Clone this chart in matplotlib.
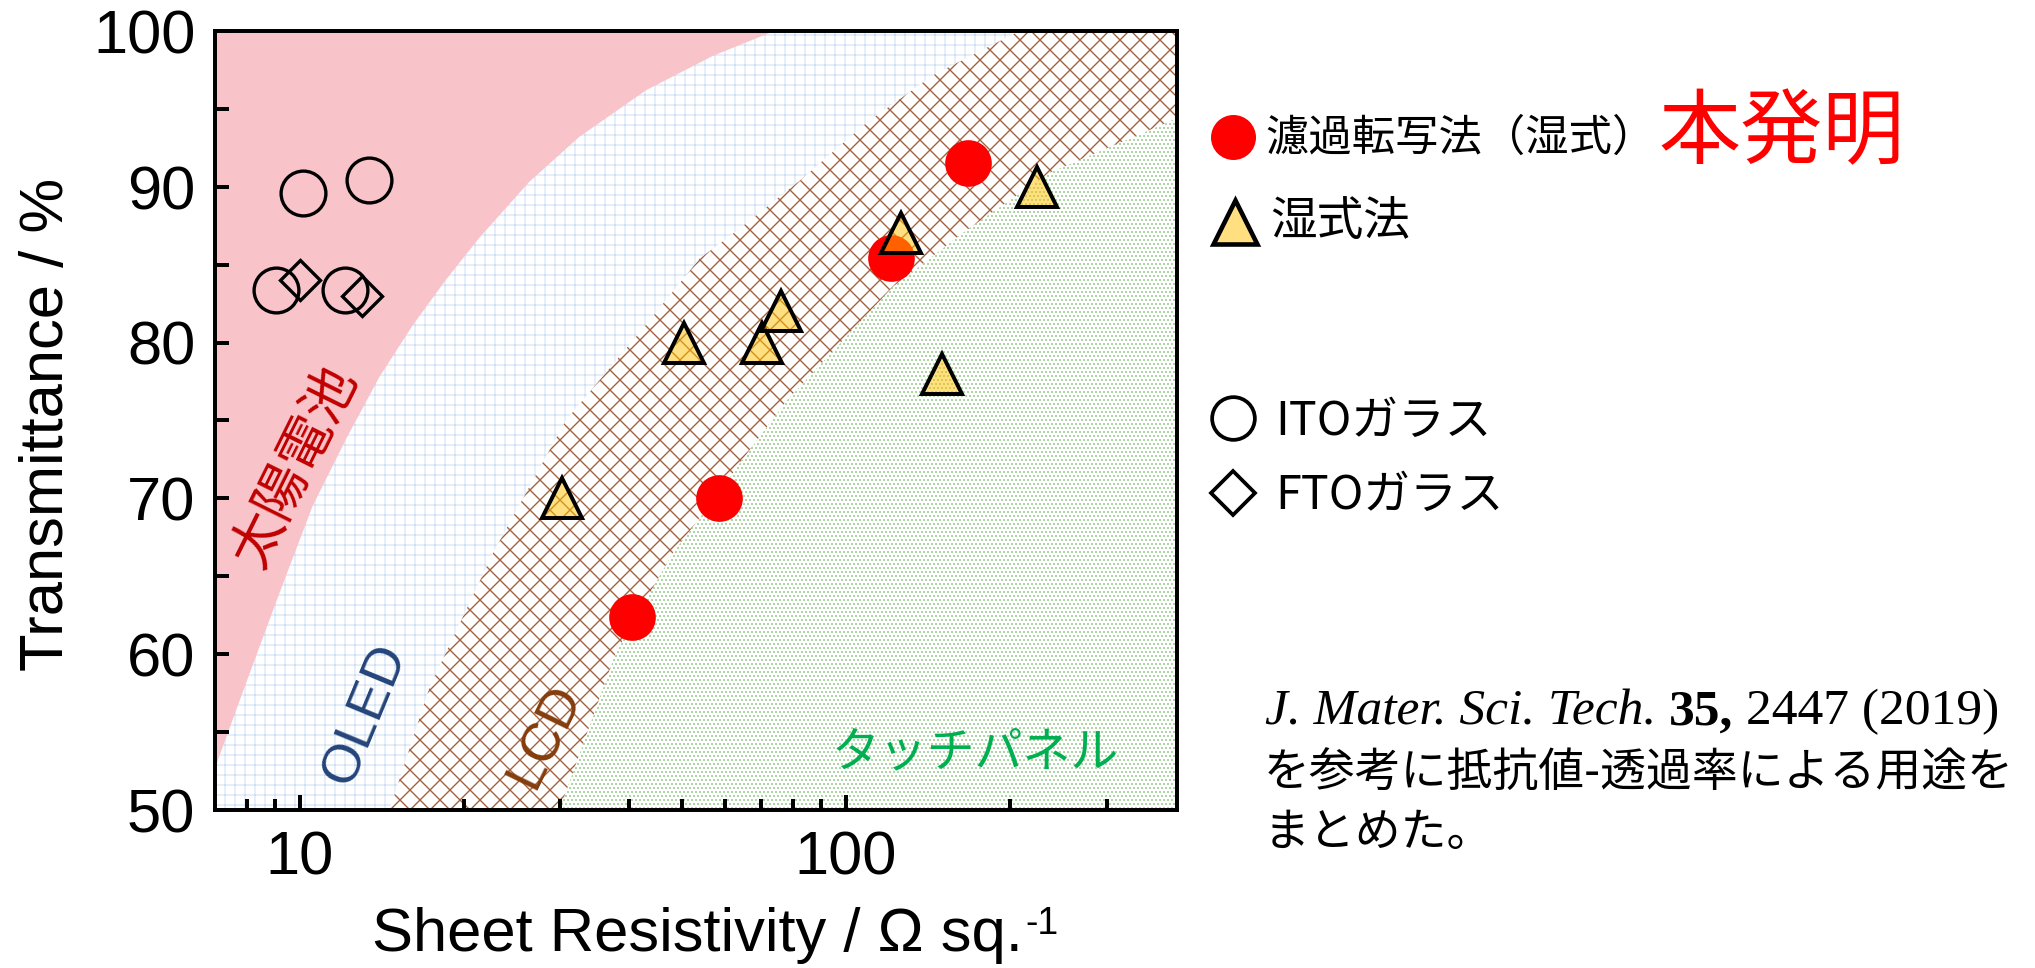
import matplotlib
matplotlib.use("Agg")
import matplotlib.pyplot as plt
from matplotlib.lines import Line2D
from matplotlib.text import Annotation

plt.rcParams["font.family"] = ["Liberation Sans", "Noto Sans CJK JP", "DejaVu Sans"]

# ---------------- data: sheet resistance (ohm/sq) vs transmittance (%) ----------------
filtration_R = [40.5, 58.6, 121.0, 167.0]                 # 濾過転写法（湿式）
filtration_T = [62.4, 70.0, 85.4, 91.5]
wet_R = [30.2, 50.5, 70.1, 76.1, 126.0, 150.0, 224.0]     # 湿式法
wet_T = [70.0, 80.0, 80.0, 82.0, 87.0, 78.0, 90.0]
ito_R = [9.04, 10.16, 12.09, 13.38]                       # ITOガラス
ito_T = [83.4, 89.6, 83.4, 90.4]
fto_R = [10.0, 13.0]                                      # FTOガラス
fto_T = [84.0, 83.0]

# application-area boundaries (R, T)
solar_edge_R = [7.0, 7.97, 9.18, 10.56, 12.2, 14.0, 16.1, 18.5, 21.3, 26.3, 32.5, 43.1, 57.1, 74.0]
solar_edge_T = [52.7, 58.1, 63.9, 69.5, 73.9, 77.8, 81.1, 84.0, 86.7, 90.3, 93.2, 96.2, 98.4, 100.0]
oled_edge_R = [14.6, 17.3, 22.6, 30.7, 42.5, 54.0, 62.2, 82.4, 109.0, 145.0, 208.0]
oled_edge_T = [50.0, 57.9, 66.5, 75.0, 80.9, 85.4, 87.0, 90.4, 94.1, 97.2, 100.0]
lcd_edge_R = [29.9, 37.9, 48.2, 57.5, 65.0, 78.0, 122.0, 166.0, 236.0, 404.0]
lcd_edge_T = [50.0, 60.1, 66.5, 70.0, 72.6, 76.3, 83.6, 87.2, 90.9, 94.4]

x_major = [10, 100]
x_major_labels = ["10", "100"]
x_minor = [8, 9, 20, 30, 40, 50, 60, 70, 80, 90, 200, 300]
y_major = [50, 60, 70, 80, 90, 100]
y_major_labels = ["50", "60", "70", "80", "90", "100"]
y_minor = [55, 65, 75, 85, 95]

# ---------------- figure ----------------
DPI = 120
K = 150 / DPI          # point sizes below are tuned for 150 dpi
W, H = 2035, 968
fig = plt.figure(figsize=((W + 0.4) / DPI, (H + 0.4) / DPI), dpi=DPI)
fig.patch.set_facecolor("white")


def fx(px):
    return px / W


def fy(py):
    return 1 - py / H


ax = fig.add_axes([fx(215), fy(810), 962 / W, (810 - 31.3) / H])
ax.set_xscale("log")
ax.set_xlim(7, 404)
ax.set_ylim(50, 100)


def region(xs, ys, face, hatch=None, hatch_color="none", hatch_lw=None, z=0.5):
    if hatch_lw is not None:
        plt.rcParams["hatch.linewidth"] = hatch_lw
    poly = ax.fill(xs, ys, facecolor=face, edgecolor=hatch_color,
                   linewidth=0, hatch=hatch, zorder=z)[0]
    if hatch_lw is not None and hasattr(poly, "set_hatch_linewidth"):
        poly.set_hatch_linewidth(hatch_lw)
    return poly


# touch panel area (everything, dotted green)
region([1, 1000, 1000, 1], [40, 40, 110, 110], "white",
       hatch=".....", hatch_color="#80C274", hatch_lw=0.45 * K, z=0.2)
# LCD band (brown cross-hatch)
region([lcd_edge_R[0]] + lcd_edge_R + [1000, 1000, 1, 1],
       [40] + lcd_edge_T + [lcd_edge_T[-1], 110, 110, 40], "white",
       hatch="xx", hatch_color="#A0603E", hatch_lw=0.65 * K, z=0.3)
# OLED band (light blue grid)
region([oled_edge_R[0]] + oled_edge_R + [oled_edge_R[-1], 1, 1],
       [40] + oled_edge_T + [110, 110, 40], "white",
       hatch="++", hatch_color="#AECBEE", hatch_lw=0.3 * K, z=0.4)
# solar-cell area (pink)
region([1] + solar_edge_R + [solar_edge_R[-1], 1],
       [solar_edge_T[0]] + solar_edge_T + [110, 110], "#F9C4C9", z=0.5)

# ---------------- data markers ----------------
ax.plot(filtration_R, filtration_T, ls="none", marker="o", ms=22.4 * K,
        mfc="#FF0000", mec="none", zorder=3)
ax.plot(wet_R, wet_T, ls="none", marker="^", ms=19.2 * K,
        mfc=(1.0, 0.753, 0.0, 0.5), mec="black", mew=1.9 * K, zorder=4)
ax.plot(ito_R, ito_T, ls="none", marker="o", ms=21.5 * K,
        mfc="none", mec="black", mew=1.6 * K, zorder=4)
ax.plot(fto_R, fto_T, ls="none", marker="D", ms=13.7 * K,
        mfc="none", mec="black", mew=1.6 * K, zorder=4)

# ---------------- area labels ----------------
cjk = ["Noto Sans CJK JP"]
ax.text(9.8, 72.0, "太陽電池", family=cjk, fontsize=26 * K,
        color="#C00000", rotation=63.6, ha="center", va="center", zorder=3)
ax.text(13.2, 56.15, "OLED", fontsize=26 * K, color="#24447A",
        rotation=67.5, ha="center", va="center", zorder=3)
ax.text(28.2, 54.8, "LCD", fontsize=26 * K, color="#843C0C",
        rotation=64, ha="center", va="center", zorder=3)
ax.text(172.4, 53.7, "タッチパネル", family=cjk, fontsize=23 * K,
        color="#00B050", ha="center", va="center", zorder=3)

# ---------------- axes styling ----------------
for s in ax.spines.values():
    s.set_linewidth(1.9 * K)
    s.set_zorder(5)
ax.set_xticks(x_major, labels=x_major_labels)
ax.set_xticks(x_minor, minor=True)
ax.set_yticks(y_major, labels=y_major_labels)
ax.set_yticks(y_minor, minor=True)
ax.tick_params(axis="both", which="both", direction="in", width=1.9 * K,
               labelsize=29.5 * K, pad=9.5 * K, top=False, right=False)
ax.tick_params(axis="y", which="both", length=6.9 * K)
ax.tick_params(axis="x", which="major", length=7.2 * K)
ax.tick_params(axis="x", which="minor", length=5.5 * K)
ax.tick_params(axis="x", which="minor", labelbottom=False)

ax.set_xlabel("Sheet Resistivity / Ω sq.", fontsize=29.5 * K)
ax.xaxis.set_label_coords((697 - 215) / 962, (810 - 951) / 778.7)
ax.xaxis.label.set_va("baseline")
ax.annotate("-1", xy=(1, 1), xycoords=ax.xaxis.label, xytext=(1.5 * K, 0.5 * K),
            textcoords="offset points", ha="left", va="top",
            fontsize=18 * K, annotation_clip=False)
ax.set_ylabel("Transmittance / %", fontsize=29.5 * K)
ax.yaxis.set_label_coords((63 - 215) / 962, (810 - 424) / 778.7)
ax.yaxis.label.set_va("baseline")


# ---------------- legend keys and texts ----------------
def key(px, py, **kw):
    fig.add_artist(Line2D([fx(px)], [fy(py)], transform=fig.transFigure,
                          linestyle="none", **kw))


key(1233, 137, marker="o", ms=21.6 * K, mfc="#FF0000", mec="none")
key(1234.5, 222, marker="^", ms=21.0 * K, mfc=(1.0, 0.753, 0.0, 0.5), mec="black", mew=2.2 * K)
key(1233, 418, marker="o", ms=20.5 * K, mfc="none", mec="black", mew=1.8 * K)
key(1233, 493, marker="D", ms=15.0 * K, mfc="none", mec="black", mew=1.8 * K)

fig.text(fx(1265), fy(151), "濾過転写法（湿式）", family=cjk, fontsize=20.8 * K, va="baseline")
fig.text(fx(1658), fy(157), "本発明", family=cjk, fontsize=39.4 * K, color="#FF0000", va="baseline")
fig.text(fx(1270), fy(234.7), "湿式法", family=cjk, fontsize=22.4 * K, va="baseline")
fig.text(fx(1275), fy(435), "ITOガラス", family=cjk, fontsize=22.4 * K, va="baseline")
fig.text(fx(1275), fy(509), "FTOガラス", family=cjk, fontsize=22.4 * K, va="baseline")

# reference note
ref1 = fig.text(fx(1265), fy(724), "J. Mater. Sci. Tech.", family="Liberation Serif",
                style="italic", fontsize=24.7 * K, va="baseline")
ref2 = Annotation("35,", xy=(1, 0), xycoords=ref1, xytext=(6.1 * K, 0),
                  textcoords="offset points", family="Liberation Serif",
                  weight="bold", fontsize=24.7 * K, va="bottom", ha="left")
fig.add_artist(ref2)
ref3 = Annotation("2447 (2019)", xy=(1, 0), xycoords=ref2, xytext=(6.1 * K, 0),
                  textcoords="offset points", family="Liberation Serif",
                  fontsize=24.7 * K, va="bottom", ha="left")
fig.add_artist(ref3)
fig.text(fx(1263), fy(787), "を参考に抵抗値-透過率による用途を", family=cjk,
         fontsize=22 * K, va="baseline")
fig.text(fx(1263), fy(846), "まとめた。", family=cjk, fontsize=22 * K, va="baseline")

fig.savefig("out.png", dpi=DPI, facecolor="white")
